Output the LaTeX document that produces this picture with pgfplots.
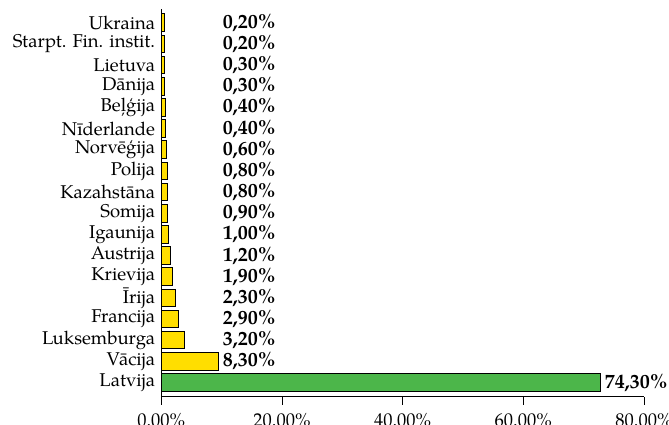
\documentclass[border=0pt]{standalone}
\usepackage{pgfplots}
\pgfplotsset{compat=1.18}
\usepackage{pgfplotstable}
\usepackage{fontspec}
\setmainfont{TeX Gyre Pagella}
\definecolor{baryellow}{RGB}{255,222,0}
\definecolor{bargreen}{RGB}{76,182,74}

% y: category index, x: drawn bar length, lx: label position, lab: label text
\pgfplotstableread{
y x lx lab
1 9.5 9.5 8,30
2 3.9 9.5 3,20
3 2.85 9.5 2,90
4 2.3 9.5 2,30
5 1.9 9.5 1,90
6 1.45 9.5 1,20
7 1.2 9.5 1,00
8 1.05 9.5 0,90
9 1.05 9.5 0,80
10 1.05 9.5 0,80
11 0.9 9.5 0,60
12 0.65 9.5 0,40
13 0.65 9.5 0,40
14 0.6 9.5 0,30
15 0.6 9.5 0,30
16 0.45 9.5 0,20
17 0.45 9.5 0,20
}\yellowdata
\pgfplotstableread{
y x lx lab
0 72.8 72.8 74,30
}\greendata

\begin{document}
\fontsize{18.5}{22}\selectfont
\begin{tikzpicture}
\begin{axis}[
  at={(0,0)}, anchor=south west, scale only axis,
  width=482.7pt, height=388.1pt,
  xmin=0, xmax=80, ymin=-0.67, ymax=17.67,
  axis x line=bottom, axis y line=left,
  axis line style={-, line width=0.9pt, black},
  xtick={0,20,40,60,80},
  xticklabels={0.00\%,20.00\%,40.00\%,60.00\%,80.00\%},
  x tick style={line width=0.9pt, black},
  tick align=outside,
  major tick length=8pt,
  ytick={0,...,17},
  yticklabels={Latvija,Vācija,Luksemburga,Francija,Īrija,Krievija,Austrija,Igaunija,Somija,Kazahstāna,Polija,Norvēģija,Nīderlande,Beļģija,Dānija,Lietuva,Starpt. Fin. instit.,Ukraina},
  y tick style={draw=none},
  yticklabel style={anchor=east, inner sep=0pt, xshift=2pt},
  xticklabel style={anchor=north, inner sep=0pt, yshift=-8pt},
  clip=false,
]
\addplot[xbar, bar shift=0pt, bar width=17.6pt, fill=baryellow, draw=black, line width=1pt]
  table[x=x, y=y] {\yellowdata};
\addplot[xbar, bar shift=0pt, bar width=17.6pt, fill=bargreen, draw=black, line width=1pt]
  table[x=x, y=y] {\greendata};
\addplot[draw=none, mark=none, nodes near coords={\pgfplotspointmeta\%},
  point meta=explicit symbolic,
  nodes near coords style={anchor=west, inner sep=0pt, xshift=4pt, font=\fontsize{20}{22}\selectfont\bfseries}]
  table[x=lx, y=y, meta=lab] {\yellowdata};
\addplot[draw=none, mark=none, nodes near coords={\pgfplotspointmeta\%},
  point meta=explicit symbolic,
  nodes near coords style={anchor=west, inner sep=0pt, xshift=4pt, font=\fontsize{20}{22}\selectfont\bfseries}]
  table[x=lx, y=y, meta=lab] {\greendata};
\end{axis}
\pgfresetboundingbox
\path[use as bounding box] (-161.3pt,-28.3pt) rectangle (507.7pt,396.7pt);
\end{tikzpicture}
\end{document}
